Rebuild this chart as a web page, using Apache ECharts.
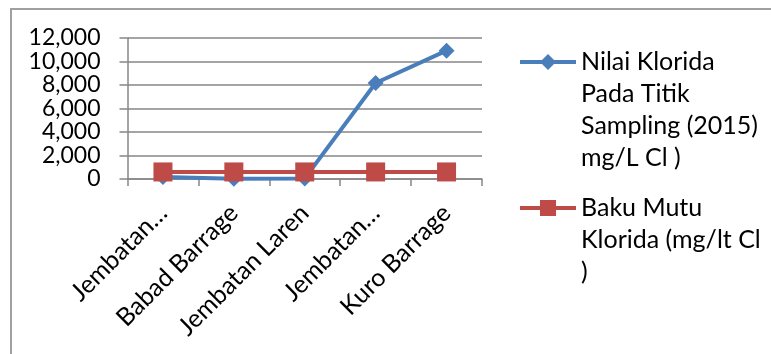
<!DOCTYPE html>
<html>
<head>
<meta charset="utf-8">
<script src="https://cdn.jsdelivr.net/npm/echarts@6/dist/echarts.min.js"></script>
<style>
  html, body { margin: 0; padding: 0; background: #ffffff; }
  #chart { width: 771px; height: 354px; }
</style>
</head>
<body>
<div id="chart"></div>
<script>
// Sampling locations along the river
const categories = ['Jembatan…', 'Babad Barrage', 'Jembatan Laren', 'Jembatan…', 'Kuro Barrage'];
// Chloride measured at each sampling point (mg/L)
const kloridaValues = [180, 30, 50, 8170, 10920];
// Chloride quality standard (mg/L)
const bakuMutuValues = [600, 600, 600, 600, 600];
// Value axis ticks
const yMin = 0, yMax = 12000, yStep = 2000;

const nameKlorida = 'Nilai Klorida Pada Titik Sampling (2015) mg/L Cl )';
const nameBaku = 'Baku Mutu Klorida (mg/lt Cl )';
const legendLines = {};
legendLines[nameKlorida] = ['Nilai Klorida', 'Pada Titik', 'Sampling (2015)', 'mg/L Cl )'];
legendLines[nameBaku] = ['Baku Mutu', 'Klorida (mg/lt Cl', ')'];

const FONT = 'Lato';
const LINE_H = 32;
const ICON_H = 20;

const chart = echarts.init(document.getElementById('chart'), null, { renderer: 'canvas' });

// One legend block per series. Legend text is centred on its icon, so empty
// leading lines push the first real line level with the icon.
function legendFor(name, iconCenterY) {
  const n = legendLines[name].length;
  const totalLines = 2 * n - 1;
  return {
    orient: 'vertical',
    left: 518,
    top: iconCenterY - totalLines * LINE_H / 2,
    padding: 0,
    itemWidth: 56, itemHeight: ICON_H,
    lineStyle: { width: 4 },
    data: [{
      name: name,
      textStyle: { fontFamily: FONT, fontSize: 25, color: '#000', lineHeight: LINE_H }
    }],
    formatter: (nm) => new Array(n).join('\n') + legendLines[nm].join('\n')
  };
}

chart.setOption({
  animation: false,
  backgroundColor: '#ffffff',
  graphic: [{
    type: 'rect',
    shape: { x: 11, y: 9, width: 800, height: 400 },
    style: { fill: 'none', stroke: '#a0a0a0', lineWidth: 2 },
    silent: true, z: -1
  }],
  grid: { left: 127.5, right: 289, top: 38, bottom: 175, containLabel: false },
  legend: [legendFor(nameKlorida, 62), legendFor(nameBaku, 208)],
  xAxis: {
    type: 'category',
    data: categories,
    boundaryGap: true,
    axisLine: { show: true, lineStyle: { color: '#868686', width: 1.5 } },
    axisTick: { show: true, length: 7, alignWithLabel: false, lineStyle: { color: '#868686', width: 1.5 } },
    axisLabel: {
      rotate: 45, margin: 30, interval: 0,
      fontFamily: FONT, fontSize: 25, color: '#000'
    },
    splitLine: { show: false }
  },
  yAxis: {
    type: 'value',
    min: yMin, max: yMax, interval: yStep,
    axisLine: { show: true, lineStyle: { color: '#868686', width: 1.5 } },
    axisTick: { show: true, length: 8, lineStyle: { color: '#868686', width: 1.5 } },
    axisLabel: {
      margin: 27,
      fontFamily: FONT, fontSize: 23, color: '#000',
      formatter: (v) => v.toLocaleString('en-US')
    },
    splitLine: { show: true, lineStyle: { color: '#868686', width: 1.5 } }
  },
  series: [
    {
      name: nameKlorida,
      type: 'line',
      data: kloridaValues,
      symbol: 'diamond', symbolSize: 16,
      lineStyle: { color: '#4A7EBB', width: 4 },
      itemStyle: { color: '#4A7EBB' },
      z: 2
    },
    {
      name: nameBaku,
      type: 'line',
      data: bakuMutuValues,
      symbol: 'rect', symbolSize: 19,
      lineStyle: { color: '#BE4B48', width: 4 },
      itemStyle: { color: '#BE4B48' },
      z: 3
    }
  ]
});
</script>
</body>
</html>
